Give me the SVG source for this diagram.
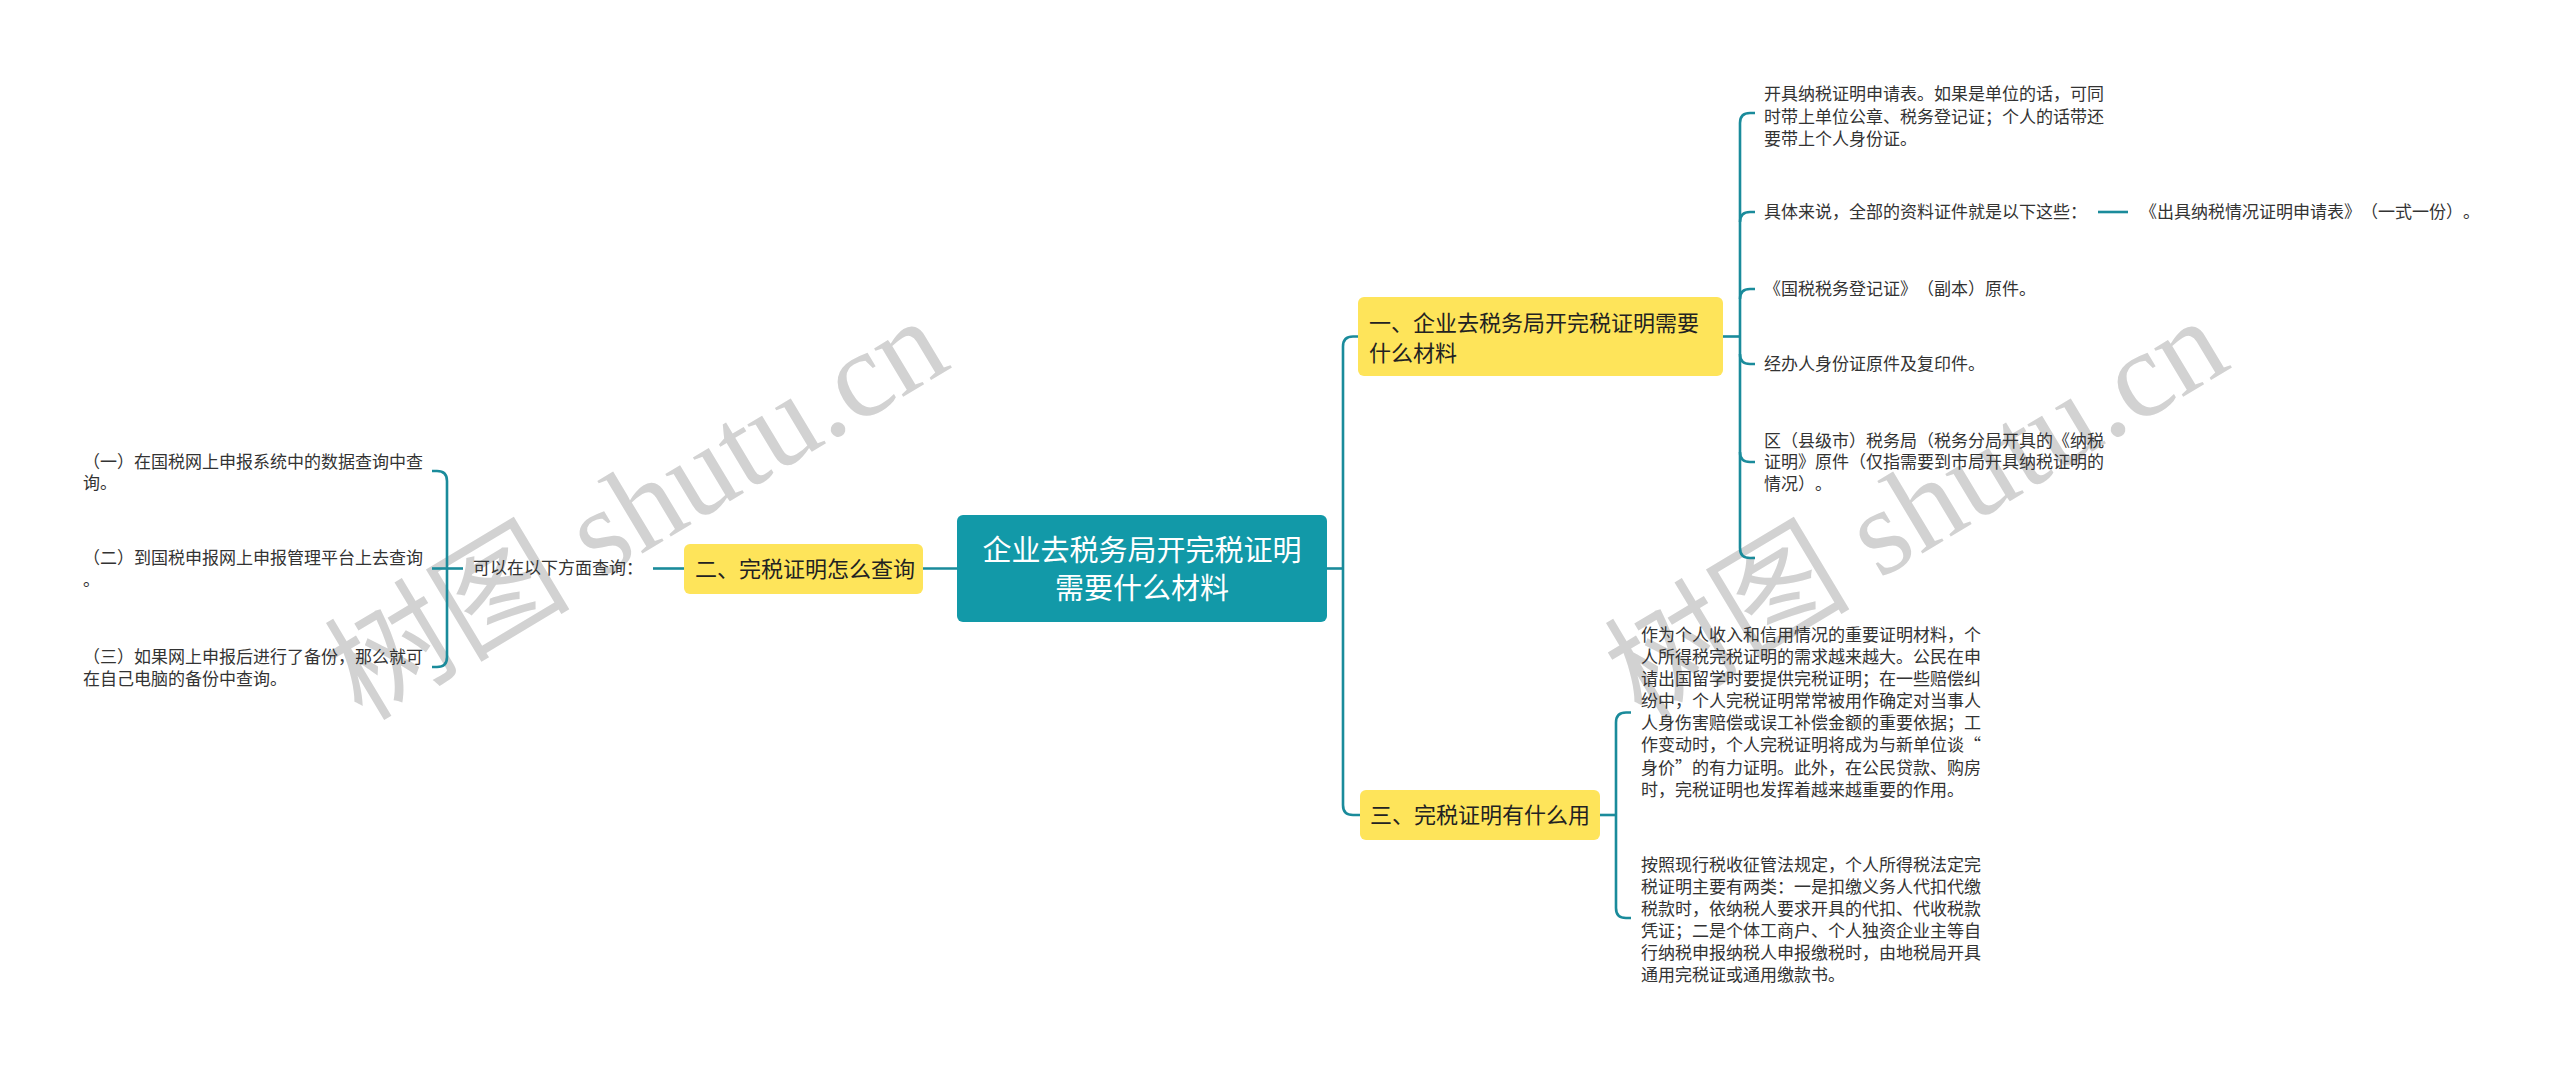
<svg xmlns="http://www.w3.org/2000/svg" width="2560" height="1067" viewBox="0 0 2560 1067">
<style>
text{text-spacing-trim:space-all}
.wm{font-family:"Liberation Serif","Noto Sans CJK SC",serif;font-size:123px;fill:#d2d2d2}
.t{font-family:"Noto Sans CJK SC","Noto Sans",sans-serif;font-size:17px;fill:#333}
.n{font-family:"Noto Sans CJK SC","Noto Sans",sans-serif;font-size:22px;fill:#222}
.r{font-family:"Noto Sans CJK SC","Noto Sans",sans-serif;font-size:29px;fill:#fff}
.ln{fill:none;stroke:#1a8b9b;stroke-width:2.6}
.yb{fill:#fee45a}
</style>
<rect width="2560" height="1067" fill="#fff"/>
<g id="watermarks">
<text class="wm" transform="translate(362,722) rotate(-31)">树图 shutu.cn</text>
<text class="wm" transform="translate(1642,722) rotate(-31)">树图 shutu.cn</text>
</g>
<g id="connectors">
<path class="ln" d="M957,568.5 H923"/>
<path class="ln" d="M1327,568.5 H1343"/>
<path class="ln" d="M1358,336.5 H1353 Q1343,336.5 1343,346.5 V805 Q1343,815 1353,815 H1360"/>
<path class="ln" d="M1723,336.5 H1740"/>
<path class="ln" d="M1740,123 V548"/>
<path class="ln" d="M1740,123 Q1740,113 1750,113 H1755"/>
<path class="ln" d="M1740,222 Q1740,212 1750,212 H1755"/>
<path class="ln" d="M1740,299 Q1740,289 1750,289 H1755"/>
<path class="ln" d="M1740,354 Q1740,364 1750,364 H1755"/>
<path class="ln" d="M1740,452 Q1740,462 1750,462 H1755"/>
<path class="ln" d="M1740,548 Q1740,558 1750,558 H1755"/>
<path class="ln" d="M2098,212 H2128"/>
<path class="ln" d="M1600,815 H1616"/>
<path class="ln" d="M1631,712.5 H1626 Q1616,712.5 1616,722.5 V908 Q1616,918 1626,918 H1631"/>
<path class="ln" d="M684,568.5 H653"/>
<path class="ln" d="M463,568.5 H432"/>
<path class="ln" d="M432,471 H437 Q447,471 447,481 V657 Q447,667 437,667 H432"/>
</g>
<g id="root">
<rect x="957" y="515" width="370" height="107" rx="6" fill="#1299a8"/>
<text class="r" x="1142" y="561" text-anchor="middle">企业去税务局开完税证明</text>
<text class="r" x="1142" y="599" text-anchor="middle">需要什么材料</text>
</g>
<g id="n1">
<rect class="yb" x="1358" y="297" width="365" height="79" rx="6"/>
<text class="n" x="1369" y="331">一、企业去税务局开完税证明需要</text>
<text class="n" x="1369" y="361">什么材料</text>
</g>
<g id="n1c1">
<text class="t" x="1764" y="100">开具纳税证明申请表。如果是单位的话，可同</text>
<text class="t" x="1764" y="122.5">时带上单位公章、税务登记证；个人的话带还</text>
<text class="t" x="1764" y="145">要带上个人身份证。</text>
</g>
<g id="n1c2"><text class="t" x="1764" y="218">具体来说，全部的资料证件就是以下这些：</text></g>
<g id="n1c2a"><text class="t" x="2140" y="218">《出具纳税情况证明申请表》（一式一份）。</text></g>
<g id="n1c3"><text class="t" x="1764" y="295">《国税税务登记证》（副本）原件。</text></g>
<g id="n1c4"><text class="t" x="1764" y="370">经办人身份证原件及复印件。</text></g>
<g id="n1c5">
<text class="t" x="1764" y="446.5">区（县级市）税务局（税务分局开具的《纳税</text>
<text class="t" x="1764" y="468">证明》原件（仅指需要到市局开具纳税证明的</text>
<text class="t" x="1764" y="489.5">情况）。</text>
</g>
<g id="n2">
<rect class="yb" x="684" y="544" width="239" height="50" rx="6"/>
<text class="n" x="695" y="577">二、完税证明怎么查询</text>
</g>
<g id="n2c"><text class="t" x="473" y="574">可以在以下方面查询：</text></g>
<g id="n2c1">
<text class="t" x="83" y="468">（一）在国税网上申报系统中的数据查询中查</text>
<text class="t" x="83" y="489">询。</text>
</g>
<g id="n2c2">
<text class="t" x="83" y="564">（二）到国税申报网上申报管理平台上去查询</text>
<text class="t" x="83" y="586">。</text>
</g>
<g id="n2c3">
<text class="t" x="83" y="663">（三）如果网上申报后进行了备份，那么就可</text>
<text class="t" x="83" y="685">在自己电脑的备份中查询。</text>
</g>
<g id="n3">
<rect class="yb" x="1360" y="790" width="240" height="50" rx="6"/>
<text class="n" x="1370" y="823">三、完税证明有什么用</text>
</g>
<g id="n3c1">
<text class="t" x="1641" y="641">作为个人收入和信用情况的重要证明材料，个</text>
<text class="t" x="1641" y="663">人所得税完税证明的需求越来越大。公民在申</text>
<text class="t" x="1641" y="685">请出国留学时要提供完税证明；在一些赔偿纠</text>
<text class="t" x="1641" y="707">纷中，个人完税证明常常被用作确定对当事人</text>
<text class="t" x="1641" y="729">人身伤害赔偿或误工补偿金额的重要依据；工</text>
<text class="t" x="1641" y="751">作变动时，个人完税证明将成为与新单位谈“</text>
<text class="t" x="1641" y="773.5">身价”的有力证明。此外，在公民贷款、购房</text>
<text class="t" x="1641" y="796">时，完税证明也发挥着越来越重要的作用。</text>
</g>
<g id="n3c2">
<text class="t" x="1641" y="871">按照现行税收征管法规定，个人所得税法定完</text>
<text class="t" x="1641" y="893">税证明主要有两类：一是扣缴义务人代扣代缴</text>
<text class="t" x="1641" y="915">税款时，依纳税人要求开具的代扣、代收税款</text>
<text class="t" x="1641" y="937">凭证；二是个体工商户、个人独资企业主等自</text>
<text class="t" x="1641" y="959">行纳税申报纳税人申报缴税时，由地税局开具</text>
<text class="t" x="1641" y="981">通用完税证或通用缴款书。</text>
</g>
</svg>
